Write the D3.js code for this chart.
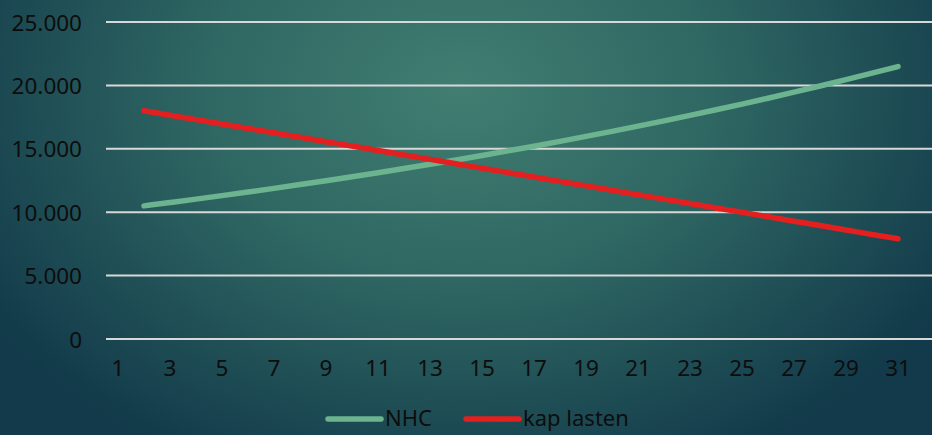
<!DOCTYPE html>
<html>
<head>
<meta charset="utf-8">
<script src="https://cdn.jsdelivr.net/npm/d3@7"></script>
<style>
  html, body { margin: 0; padding: 0; overflow: hidden; }
  body { width: 932px; height: 435px; }
  text { font-family: "Noto Sans", "DejaVu Sans", sans-serif; fill: #0d0d0d; }
</style>
</head>
<body>
<div id="chart"></div>
<script>
// data
const days = d3.range(1, 32);               // categories 1..31
const xTickLabels = [1, 3, 5, 7, 9, 11, 13, 15, 17, 19, 21, 23, 25, 27, 29, 31];
const yTicks = [0, 5000, 10000, 15000, 20000, 25000];

const nhcDays = d3.range(2, 32);
const nhcValues = [10500, 10763, 11031, 11307, 11590, 11880, 12177, 12481, 12793, 13113,
  13441, 13777, 14121, 14474, 14836, 15207, 15587, 15977, 16376, 16786,
  17205, 17635, 18076, 18528, 18991, 19466, 19953, 20452, 20963, 21487];
const kapValues = [18000, 17652, 17303, 16955, 16607, 16259, 15910, 15562, 15214, 14866,
  14517, 14169, 13821, 13472, 13124, 12776, 12428, 12079, 11731, 11383,
  11034, 10686, 10338, 9990, 9641, 9293, 8945, 8597, 8248, 7900];

const seriesNames = ["NHC", "kap lasten"];
const seriesColors = ["#6bb48f", "#e3201f"];

// layout
const W = 932, H = 435;
const plot = { left: 105, right: 911, top: 22, bottom: 339 };

const svg = d3.select("#chart").append("svg")
  .attr("width", W)
  .attr("height", H);

// background gradient
const defs = svg.append("defs");
const grad = defs.append("radialGradient")
  .attr("id", "bg")
  .attr("gradientUnits", "userSpaceOnUse")
  .attr("cx", 460).attr("cy", 90).attr("r", 560)
  .attr("gradientTransform", "translate(460,90) scale(1,0.75) translate(-460,-90)");
grad.append("stop").attr("offset", "0%").attr("stop-color", "#417e71");
grad.append("stop").attr("offset", "45%").attr("stop-color", "#2f6763");
grad.append("stop").attr("offset", "100%").attr("stop-color", "#123a4a");

svg.append("rect")
  .attr("width", W).attr("height", H)
  .attr("fill", "url(#bg)");

// scales
const xScale = d3.scaleBand()
  .domain(days)
  .range([plot.left, plot.right]);
const xPos = d => xScale(d) + xScale.bandwidth() / 2;

const yScale = d3.scaleLinear()
  .domain([0, 25000])
  .range([plot.bottom, plot.top]);

// gridlines
svg.append("g")
  .selectAll("line")
  .data(yTicks)
  .enter()
  .append("line")
  .attr("x1", plot.left + 1)
  .attr("x2", W)
  .attr("y1", d => yScale(d))
  .attr("y2", d => yScale(d))
  .style("stroke", "#d8d8d8")
  .style("stroke-width", 2);

// y axis labels
const fmt = d => d === 0 ? "0" : d3.format(",")(d).replace(/,/g, ".");
const yAxis = svg.append("g")
  .attr("transform", `translate(${plot.left - 23},0)`)
  .call(d3.axisLeft(yScale).tickValues(yTicks).tickFormat(fmt).tickSize(0).tickPadding(0));
yAxis.select(".domain").remove();
yAxis.selectAll("text")
  .style("font-size", "22.5px")
  .style("font-family", "'Noto Sans', sans-serif")
  .attr("fill", "#0d0d0d")
  .attr("dy", "0.36em");

// x axis labels
const xAxis = svg.append("g")
  .attr("transform", `translate(0,${plot.bottom + 19})`)
  .call(d3.axisBottom(xScale).tickValues(xTickLabels).tickSize(0).tickPadding(0));
xAxis.select(".domain").remove();
xAxis.selectAll("text")
  .style("font-size", "22.5px")
  .style("font-family", "'Noto Sans', sans-serif")
  .attr("fill", "#0d0d0d")
  .attr("dy", "0.8em");

// lines
const line = d3.line()
  .x(d => xPos(d.day))
  .y(d => yScale(d.value))
  .curve(d3.curveMonotoneX);

const seriesData = [
  nhcDays.map((d, i) => ({ day: d, value: nhcValues[i] })),
  nhcDays.map((d, i) => ({ day: d, value: kapValues[i] }))
];

svg.selectAll("path.data-line")
  .data(seriesData)
  .enter()
  .append("path")
  .attr("class", "data-line")
  .attr("d", line)
  .style("fill", "none")
  .style("stroke", (d, i) => seriesColors[i])
  .style("stroke-width", 5.5)
  .style("stroke-linecap", "round")
  .style("stroke-linejoin", "round");

// legend
const legendX = [328, 466];
const legend = svg.selectAll(".legend")
  .data(seriesNames)
  .enter()
  .append("g")
  .attr("class", "legend")
  .attr("transform", (d, i) => `translate(${legendX[i]},419)`);

legend.append("line")
  .attr("x1", 0).attr("x2", 53)
  .attr("y1", 0).attr("y2", 0)
  .style("stroke", (d, i) => seriesColors[i])
  .style("stroke-width", 5.5)
  .style("stroke-linecap", "round");

legend.append("text")
  .attr("x", 57)
  .attr("y", 0)
  .attr("dy", "0.34em")
  .style("font-size", "22px")
  .text(d => d);
</script>
</body>
</html>
